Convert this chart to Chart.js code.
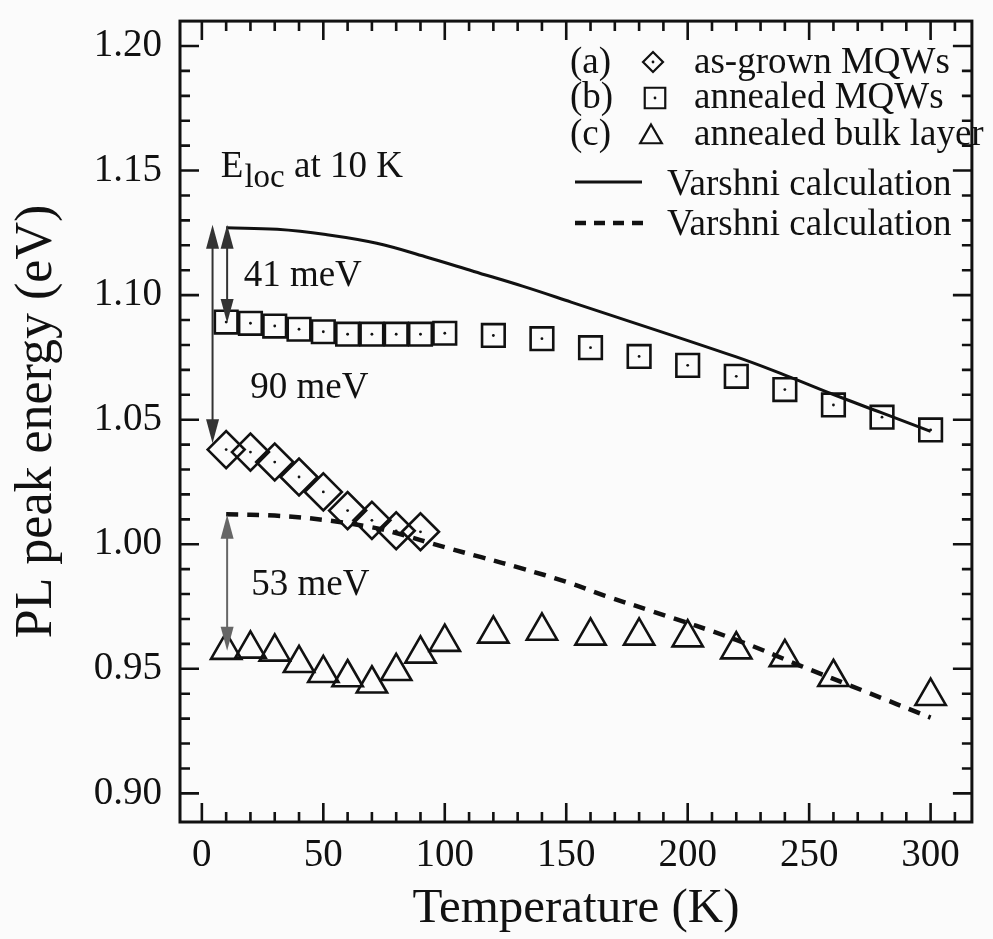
<!DOCTYPE html>
<html>
<head>
<meta charset="utf-8">
<script src="https://cdn.jsdelivr.net/npm/chart.js@4.4.1/dist/chart.umd.min.js"></script>
<style>
  html, body { margin: 0; padding: 0; background: #fbfbfb; }
  canvas { display: block; }
</style>
</head>
<body>
<canvas id="plChart" width="993" height="939"></canvas>
<script>
// (a) as-grown MQWs
const tempA = [10, 20, 30, 40, 50, 60, 70, 80, 90];
const energyA = [1.038, 1.037, 1.033, 1.027, 1.021, 1.0135, 1.0096, 1.0054, 1.005];

// (b) annealed MQWs
const tempB = [10, 20, 30, 40, 50, 60, 70, 80, 90, 100, 120, 140, 160, 180, 200, 220, 240, 260, 280, 300];
const energyB = [1.0892, 1.0887, 1.0876, 1.0863, 1.0853, 1.0843, 1.0843, 1.0843, 1.0843, 1.0847,
                 1.0838, 1.0825, 1.0789, 1.0754, 1.0718, 1.0674, 1.0621, 1.0559, 1.051, 1.0459];

// (c) annealed bulk layer
const tempC = [10, 20, 30, 40, 50, 60, 70, 80, 90, 100, 120, 140, 160, 180, 200, 220, 240, 260, 300];
const energyC = [0.9575, 0.958, 0.9568, 0.9522, 0.9482, 0.9465, 0.944, 0.949, 0.956, 0.9607,
                 0.964, 0.9652, 0.9632, 0.9632, 0.9625, 0.9577, 0.9546, 0.9466, 0.939];

// Varshni calculation (solid, MQWs)
const tempVarA = [10, 31, 51, 72, 92, 112, 132, 152, 220, 240, 260, 280, 300];
const energyVarA = [1.127, 1.1264, 1.1243, 1.1208, 1.1154, 1.1095, 1.1036, 1.0972, 1.0752, 1.0679, 1.0601, 1.0527, 1.0453];

// Varshni calculation (dashed, bulk)
const tempVarB = [10, 30, 50, 70, 80, 100, 115, 132, 150, 166, 186, 220, 247, 272, 300];
const energyVarB = [1.012, 1.0115, 1.0098, 1.0068, 1.0045, 0.9988, 0.9948, 0.9902, 0.9849, 0.9793, 0.9729, 0.9616, 0.951, 0.9413, 0.9304];

// energy gap arrows: [temperature, from, to, colour]
const gapArrows = [
  [4.4, 1.1283, 1.0405, '#333'],
  [10.4, 1.1283, 1.0888, '#333'],
  [10.4, 1.0118, 0.9572, '#666']
];
const gapLabels = [
  ['41 meV', 17.2, 1.1037],
  ['90 meV', 19.9, 1.0586],
  ['53 meV', 20.3, 0.9796]
];

const legendTags = ['(a)', '(b)', '(c)', '', ''];
const legendTexts = ['as-grown MQWs', 'annealed MQWs', 'annealed bulk layer', 'Varshni calculation', 'Varshni calculation'];

const serif = '"Liberation Serif", "Times New Roman", serif';

function toXY(xs, ys) {
  return xs.map((x, i) => ({ x: x, y: ys[i] }));
}

// draw a double-headed vertical arrow
function drawArrow(ctx, x, y1, y2, color) {
  const head = 24, half = 6.5;
  ctx.save();
  ctx.strokeStyle = color;
  ctx.fillStyle = color;
  ctx.lineWidth = 2;
  ctx.beginPath();
  ctx.moveTo(x, y1 + head - 2);
  ctx.lineTo(x, y2 - head + 2);
  ctx.stroke();
  ctx.beginPath();
  ctx.moveTo(x, y1);
  ctx.lineTo(x - half, y1 + head);
  ctx.lineTo(x + half, y1 + head);
  ctx.closePath();
  ctx.fill();
  ctx.beginPath();
  ctx.moveTo(x, y2);
  ctx.lineTo(x - half, y2 - head);
  ctx.lineTo(x + half, y2 - head);
  ctx.closePath();
  ctx.fill();
  ctx.restore();
}

function centerDot(ctx, x, y) {
  ctx.beginPath();
  ctx.arc(x, y, 1.4, 0, Math.PI * 2);
  ctx.fill();
}

const decorPlugin = {
  id: 'decor',
  beforeDraw(chart) {
    const ctx = chart.ctx;
    ctx.save();
    ctx.fillStyle = '#fbfbfb';
    ctx.fillRect(0, 0, chart.width, chart.height);
    ctx.restore();
  },
  afterDatasetsDraw(chart) {
    const ctx = chart.ctx;
    const xs = chart.scales.x, ys = chart.scales.y;
    const { left, right, top, bottom } = chart.chartArea;
    ctx.save();

    // dots in the middle of the squares and diamonds
    ctx.fillStyle = '#111';
    chart.data.datasets.forEach((ds, i) => {
      if (!ds.centerDot) return;
      chart.getDatasetMeta(i).data.forEach((pt) => centerDot(ctx, pt.x, pt.y));
    });

    // frame with inward ticks on all sides
    ctx.strokeStyle = '#111';
    ctx.lineWidth = 3;
    ctx.strokeRect(left, top, right - left, bottom - top);
    ctx.lineWidth = 2.6;
    ctx.beginPath();
    for (let t = 0; t <= xs.max; t += 10) {
      const px = xs.getPixelForValue(t);
      const len = t % 50 === 0 ? 19 : 10;
      ctx.moveTo(px, bottom); ctx.lineTo(px, bottom - len);
      ctx.moveTo(px, top); ctx.lineTo(px, top + len);
    }
    for (let k = 90; k <= 120; k++) {
      const py = ys.getPixelForValue(k / 100);
      const len = k % 5 === 0 ? 19 : 10;
      ctx.moveTo(left, py); ctx.lineTo(left + len, py);
      ctx.moveTo(right, py); ctx.lineTo(right - len, py);
    }
    ctx.stroke();

    // arrows and labels
    gapArrows.forEach((a) => {
      drawArrow(ctx, xs.getPixelForValue(a[0]), ys.getPixelForValue(a[1]), ys.getPixelForValue(a[2]), a[3]);
    });
    ctx.fillStyle = '#111';
    ctx.textBaseline = 'alphabetic';
    ctx.textAlign = 'left';
    ctx.font = '37px ' + serif;
    gapLabels.forEach((l) => {
      ctx.fillText(l[0], xs.getPixelForValue(l[1]), ys.getPixelForValue(l[2]));
    });

    // E_loc at 10 K
    let ex = xs.getPixelForValue(7.8);
    const ey = ys.getPixelForValue(1.1474);
    ctx.fillText('E', ex, ey);
    ex += ctx.measureText('E').width + 1;
    ctx.font = '33px ' + serif;
    ctx.fillText('loc', ex, ey + 10);
    ex += ctx.measureText('loc').width;
    ctx.font = '37px ' + serif;
    ctx.fillText(' at 10 K', ex, ey);

    // legend
    const rows = [73, 108, 145, 195, 235];
    const mids = [62, 98, 134, 182, 223];
    ctx.font = '37px ' + serif;
    for (let i = 0; i < 3; i++) {
      ctx.fillText(legendTags[i], 570, rows[i]);
      ctx.fillText(legendTexts[i], 694, rows[i]);
    }
    ctx.fillText(legendTexts[3], 667, rows[3]);
    ctx.fillText(legendTexts[4], 667, rows[4]);

    ctx.strokeStyle = '#111';
    ctx.fillStyle = 'rgba(0,0,0,0)';
    ctx.lineWidth = 2.2;
    Chart.helpers.drawPoint(ctx, { pointStyle: 'rectRot', radius: 10, rotation: 0, borderWidth: 2.2 }, 653, mids[0]);
    Chart.helpers.drawPoint(ctx, { pointStyle: 'rect', radius: 14.5, rotation: 0, borderWidth: 2.2 }, 655, mids[1]);
    Chart.helpers.drawPoint(ctx, { pointStyle: 'triangle', radius: 12.5, rotation: 0, borderWidth: 2.2 }, 651, mids[2] + 3);
    ctx.fillStyle = '#111';
    centerDot(ctx, 653, mids[0]);
    centerDot(ctx, 655, mids[1]);

    ctx.lineWidth = 3;
    ctx.beginPath();
    ctx.moveTo(575, mids[3]); ctx.lineTo(642, mids[3]);
    ctx.stroke();
    ctx.lineWidth = 4.5;
    ctx.setLineDash([11, 8]);
    ctx.beginPath();
    ctx.moveTo(575, mids[4]); ctx.lineTo(648, mids[4]);
    ctx.stroke();
    ctx.setLineDash([]);
    ctx.restore();
  }
};

const markerStyle = {
  showLine: false,
  borderColor: '#111',
  backgroundColor: 'rgba(0,0,0,0)',
  pointBorderWidth: 2.6,
  pointHoverRadius: 0
};

new Chart(document.getElementById('plChart'), {
  type: 'scatter',
  data: {
    datasets: [
      Object.assign({ label: 'as-grown MQWs', data: toXY(tempA, energyA), pointStyle: 'rectRot', pointRadius: 18.5, centerDot: true }, markerStyle),
      Object.assign({ label: 'annealed MQWs', data: toXY(tempB, energyB), pointStyle: 'rect', pointRadius: 16, centerDot: true }, markerStyle),
      Object.assign({ label: 'annealed bulk layer', data: toXY(tempC, energyC), pointStyle: 'triangle', pointRadius: 17.5 }, markerStyle),
      {
        label: 'Varshni calculation',
        data: toXY(tempVarA, energyVarA),
        showLine: true,
        borderColor: '#111',
        borderWidth: 3,
        pointRadius: 0,
        tension: 0.4
      },
      {
        label: 'Varshni calculation',
        data: toXY(tempVarB, energyVarB),
        showLine: true,
        borderColor: '#111',
        borderWidth: 4.5,
        borderDash: [12, 9],
        pointRadius: 0,
        tension: 0.4
      }
    ]
  },
  options: {
    responsive: false,
    animation: false,
    layout: { padding: { top: 15, right: 5, left: 0, bottom: 0 } },
    plugins: { legend: { display: false }, tooltip: { enabled: false } },
    scales: {
      x: {
        type: 'linear',
        min: -9,
        max: 317,
        grid: { display: false, drawTicks: false },
        border: { display: false },
        ticks: {
          stepSize: 50,
          includeBounds: false,
          padding: 10,
          color: '#111',
          font: { family: serif, size: 39 },
          maxRotation: 0
        },
        title: {
          display: true,
          text: 'Temperature (K)',
          color: '#111',
          font: { family: serif, size: 49 },
          padding: 0
        },
        afterFit(s) {
          s.height = 117;
          s.paddingLeft = 0; s.paddingRight = 0;
        }
      },
      y: {
        type: 'linear',
        min: 0.8885,
        max: 1.21,
        grid: { display: false, drawTicks: false },
        border: { display: false },
        ticks: {
          stepSize: 0.05,
          includeBounds: false,
          padding: 18,
          color: '#111',
          font: { family: serif, size: 39 },
          callback: (v) => v.toFixed(2)
        },
        title: {
          display: true,
          text: 'PL peak energy (eV)',
          color: '#111',
          font: { family: serif, size: 52 },
          padding: { top: 6, bottom: 0 }
        },
        afterFit(s) {
          s.width = 180;
          s.paddingTop = 0; s.paddingBottom = 0;
        }
      }
    }
  },
  plugins: [decorPlugin]
});
</script>
</body>
</html>
